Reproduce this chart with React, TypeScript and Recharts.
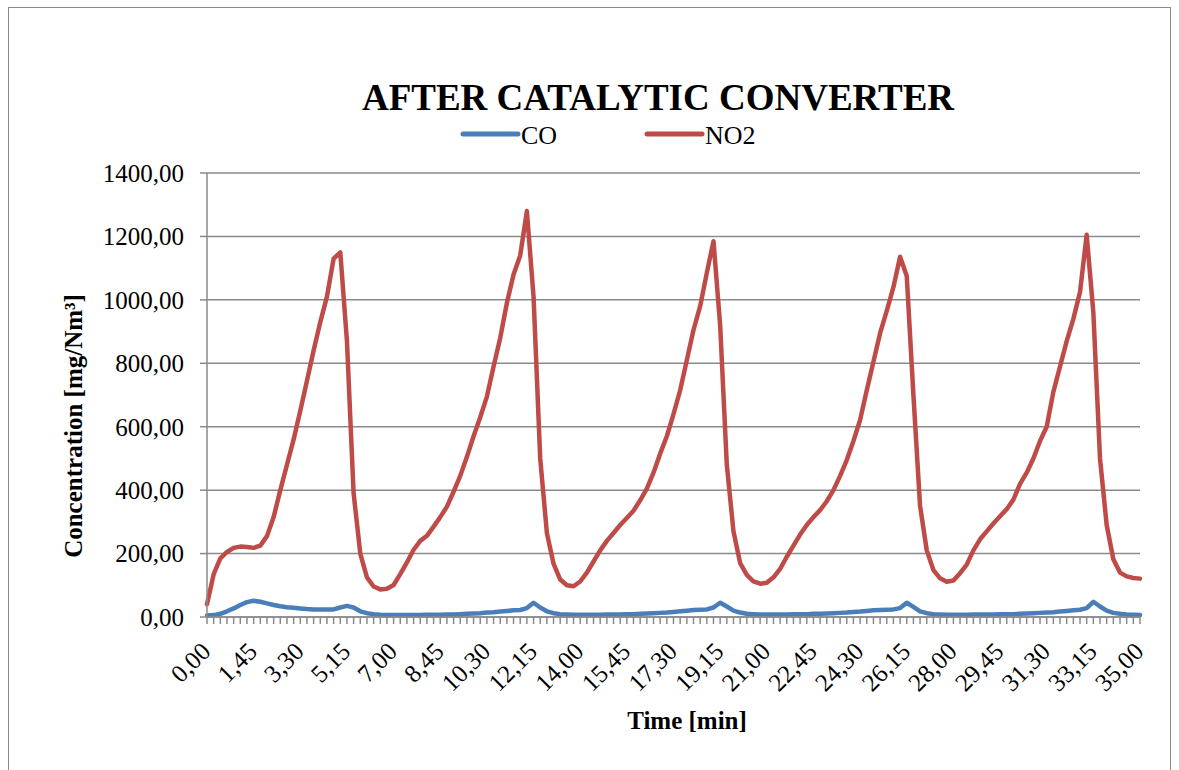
import { CartesianGrid, Legend, Line, LineChart, XAxis, YAxis } from "recharts";

// samples every 15 s over 35 min
const STEP_SECONDS = 15;
const LABEL_EVERY = 7;

const CO = [
  5, 6, 10, 18, 27, 38, 47, 51, 48, 43, 38, 34, 31, 29, 27, 25, 24, 24, 24, 24,
  30, 35, 30, 18, 12, 9, 7, 6, 6, 6, 6, 6, 6, 7, 7, 7, 8, 8, 9, 10,
  11, 12, 14, 15, 17, 19, 21, 22, 28, 45, 30, 18, 12, 9, 8, 7, 7, 7, 7, 7,
  8, 8, 8, 9, 9, 10, 11, 12, 13, 14, 16, 18, 20, 22, 23, 24, 30, 45, 33, 20,
  14, 10, 9, 8, 8, 8, 8, 8, 9, 9, 9, 10, 10, 11, 12, 13, 14, 16, 17, 19,
  21, 22, 23, 24, 28, 45, 32, 18, 12, 9, 8, 7, 7, 7, 7, 8, 8, 8, 8, 9,
  9, 9, 10, 11, 12, 13, 14, 15, 17, 19, 21, 23, 28, 48, 33, 20, 13, 10, 8, 7,
  6,
];

const NO2 = [
  40, 135, 185, 205, 218, 222, 221, 218, 225, 255, 315, 400, 480, 560, 650, 745, 840, 930, 1010, 1130,
  1150, 870, 390, 200, 125, 96, 87, 89, 101, 135, 172, 212, 240, 256, 285, 315, 348, 395, 445, 505,
  570, 630, 695, 790, 880, 990, 1080, 1140, 1280, 1010, 500, 265, 168, 118, 100, 97, 112, 140, 175, 210,
  240, 265, 290, 312, 335, 368, 405, 455, 515, 570, 640, 715, 810, 905, 980, 1085, 1185, 920, 480, 270,
  170, 133, 112, 105, 108, 125, 152, 190, 225, 260, 290, 315, 337, 365, 400, 445, 495, 555, 621, 715,
  805, 895, 965, 1040, 1136, 1075, 700, 350, 210, 148, 122, 111, 115, 138, 165, 210, 245, 270, 295, 318,
  340, 370, 420, 455, 500, 555, 600, 710, 790, 870, 940, 1025, 1205, 960, 500, 290, 182, 140, 128, 123,
  121,
];

const Y_TICKS = [0, 200, 400, 600, 800, 1000, 1200, 1400];

const formatTime = (sec: number) => `${Math.floor(sec / 60)},${String(sec % 60).padStart(2, "0")}`;
const TIMES = CO.map((_, i) => formatTime(i * STEP_SECONDS));

const data = TIMES.map((t, i) => ({ t, CO: CO[i], NO2: NO2[i] }));

const FONT = '"Liberation Serif", "Times New Roman", serif';
const GRID = "#8a8a8a";
const BLUE = "#4A7EBB";
const RED = "#BE4B48";

function XTick(props: any) {
  const { x, y, index, payload } = props;
  const showLabel = index % LABEL_EVERY === 0;
  return (
    <g>
      <line x1={x} y1={y} x2={x} y2={y + 7} stroke={GRID} strokeWidth={1.5} />
      {showLabel && (
        <text
          x={x + 5}
          y={y + 36}
          transform={`rotate(-45 ${x + 5} ${y + 36})`}
          textAnchor="end"
          fontSize={25}
          fontFamily={FONT}
          fill="#000"
        >
          {payload.value}
        </text>
      )}
    </g>
  );
}

function AxisTitle({ px, py, rot, children }: any) {
  return (
    <text
      x={px}
      y={py}
      transform={rot ? `rotate(${rot} ${px} ${py})` : undefined}
      textAnchor="middle"
      fontSize={25}
      fontWeight="bold"
      fontFamily={FONT}
      fill="#000"
    >
      {children}
    </text>
  );
}

function LegendContent({ payload }: any) {
  const pos: Record<string, number> = { CO: 463, NO2: 647 };
  return (
    <svg width={1179} height={40} style={{ display: "block" }}>
      {(payload || []).map((item: any) => {
        const x0 = pos[item.value] ?? 0;
        return (
          <g key={item.value}>
            <line x1={x0} y1={19} x2={x0 + 55} y2={19} stroke={item.color} strokeWidth={5} strokeLinecap="round" />
            <text x={x0 + 58} y={29} fontSize={26} fontFamily={FONT} fill="#000">
              {item.value}
            </text>
          </g>
        );
      })}
    </svg>
  );
}

export default function App() {
  return (
    <div
      style={{
        position: "absolute",
        left: 0,
        top: 0,
        width: 1179,
        height: 770,
        overflow: "hidden",
        background: "#fff",
        fontFamily: FONT,
      }}
    >
      <div
        style={{
          position: "absolute",
          left: 8,
          top: 7,
          width: 1163,
          height: 800,
          border: `1.5px solid ${GRID}`,
          boxSizing: "border-box",
        }}
      />
      <svg width={1179} height={130} style={{ position: "absolute", left: 0, top: 0 }}>
        <text x={658} y={110} textAnchor="middle" fontSize={37} fontWeight="bold" fontFamily={FONT} fill="#000">
          AFTER CATALYTIC CONVERTER
        </text>
      </svg>
      <LineChart
        width={1179}
        height={770}
        data={data}
        margin={{ top: 173, right: 39, bottom: 53, left: 0 }}
        style={{ position: "absolute", left: 0, top: 0 }}
      >
        <CartesianGrid vertical={false} stroke={GRID} strokeWidth={1.5} />
        <XAxis
          dataKey="t"
          interval={0}
          height={100}
          tickSize={0}
          tickMargin={0}
          tickLine={false}
          axisLine={{ stroke: GRID, strokeWidth: 1.5 }}
          tick={<XTick />}
          label={<AxisTitle px={687} py={729}>Time [min]</AxisTitle>}
        />
        <YAxis
          width={207}
          domain={[0, 1400]}
          ticks={Y_TICKS}
          tickFormatter={(v: number) => v.toFixed(2).replace(".", ",")}
          tick={{ fontSize: 25, fill: "#000", fontFamily: FONT }}
          tickSize={7}
          tickMargin={16}
          tickLine={{ stroke: GRID, strokeWidth: 1.5 }}
          axisLine={{ stroke: GRID, strokeWidth: 1.5 }}
          label={<AxisTitle px={82} py={426} rot={-90}>Concentration [mg/Nm³]</AxisTitle>}
        />
        <Legend
          layout="horizontal"
          verticalAlign="middle"
          align="center"
          wrapperStyle={{ left: 0, top: 115, width: 1179, height: 40 }}
          content={<LegendContent />}
        />
        <Line
          type="linear"
          dataKey="CO"
          name="CO"
          stroke={BLUE}
          strokeWidth={4.5}
          strokeLinejoin="round"
          strokeLinecap="round"
          dot={false}
          isAnimationActive={false}
        />
        <Line
          type="linear"
          dataKey="NO2"
          name="NO2"
          stroke={RED}
          strokeWidth={4.5}
          strokeLinejoin="round"
          strokeLinecap="round"
          dot={false}
          isAnimationActive={false}
        />
      </LineChart>
    </div>
  );
}
